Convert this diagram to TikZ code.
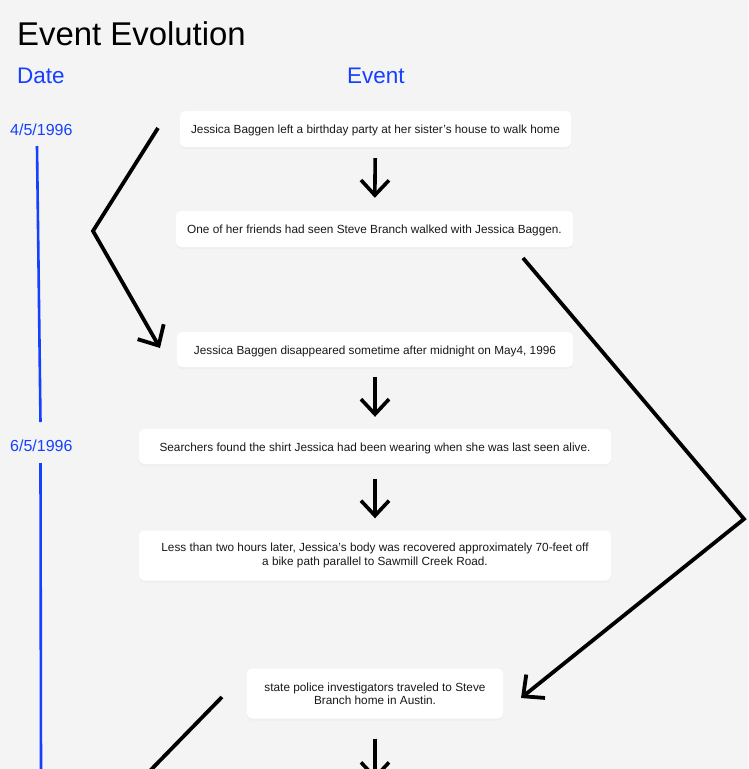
\documentclass[tikz,border=0pt]{standalone}
\usepackage{fontspec}
\setmainfont{Liberation Sans}
\usetikzlibrary{arrows.meta,shadows}
\definecolor{bg}{RGB}{244,244,244}
\definecolor{dblue}{RGB}{22,64,255}
\definecolor{txt}{RGB}{25,25,25}
\begin{document}
\begin{tikzpicture}[x=1pt,y=-1pt,
  evbox/.style={fill=white, rounded corners=5pt, inner sep=0pt, align=center,
    font=\fontsize{11.8}{13.3}\selectfont, text=txt,
    drop shadow={shadow xshift=0pt,shadow yshift=-2pt,opacity=0.05}},
  oneline/.style={text height=9pt, text depth=0pt},
  flow/.style={line width=3.6pt, -{Straight Barb[length=15pt,width=28pt]}},
  longflow/.style={line width=3.8pt, -{Straight Barb[length=16pt,width=30pt]}},
  tline/.style={dblue, line width=2.6pt},
  datelab/.style={anchor=base west, inner sep=0pt, text=dblue, font=\fontsize{16}{19}\selectfont},
  head/.style={anchor=base west, inner sep=0pt, text=dblue, font=\fontsize{22.5}{26}\selectfont}]
\useasboundingbox (0,0) rectangle (748,769);
\clip (0,0) rectangle (748,769);
\fill[bg] (0,0) rectangle (748,769);

% headings
\node[anchor=base west, inner sep=0pt, text=black, font=\fontsize{32.9}{38}\selectfont] (title) at (17,45) {Event Evolution};
\node[head] (hdate) at (17,83) {Date};
\node[head] (hevent) at (347,83) {Event};

% dates
\node[datelab] (d1) at (10,135) {4/5/1996};
\node[datelab] (d2) at (10,451) {6/5/1996};

% timeline
\coordinate (t1a) at (37,146);
\coordinate (t1b) at (40.5,422);
\coordinate (t2a) at (40.5,463);
\coordinate (t2b) at (41,775);
\draw[tline] (t1a) -- (t1b);
\draw[tline] (t2a) -- (t2b);

% events
\node[evbox, oneline, minimum width=391, minimum height=36] (b1) at (375.5,129) {Jessica Baggen left a birthday party at her sister's house to walk home};
\node[evbox, oneline, minimum width=397, minimum height=36] (b2) at (374.5,229) {One of her friends had seen Steve Branch walked with Jessica Baggen.};
\node[evbox, oneline, minimum width=396, minimum height=35] (b3) at (375,349.5) {Jessica Baggen disappeared sometime after midnight on May4, 1996};
\node[evbox, oneline, minimum width=472, minimum height=35] (b4) at (375,446.5) {Searchers found the shirt Jessica had been wearing when she was last seen alive.};
\node[evbox, minimum width=472, minimum height=50] (b5) at (375,555.5) {Less than two hours later, Jessica's body was recovered approximately 70-feet off\\a bike path parallel to Sawmill Creek Road.};
\node[evbox, minimum width=256, minimum height=50] (b6) at (375,693.5) {state police investigators traveled to Steve\\Branch home in Austin.};

% straight arrows
\draw[flow, shorten <=11pt, shorten >=13pt] (b1) -- (b2);
\draw[flow, shorten <=10pt, shorten >=12pt] (b3) -- (b4);
\draw[flow, shorten <=15pt, shorten >=12pt] (b4) -- (b5);
\coordinate (nx) at (375,780);
\draw[flow, shorten <=20pt] (b6.south) -- (nx);

% long arrows
\coordinate (a1) at (158,128);
\coordinate (a2) at (93,231);
\coordinate (a3) at (160,348);
\draw[longflow] (a1) -- (a2) -- (a3);

\coordinate (c1) at (523,258);
\coordinate (c2) at (744,519);
\coordinate (c3) at (521,698);
\draw[longflow] (c1) -- (c2) -- (c3);

\coordinate (e1) at (222,697);
\coordinate (e2) at (140,781);
\draw[line width=3.8pt] (e1) -- (e2);
\end{tikzpicture}
\end{document}
